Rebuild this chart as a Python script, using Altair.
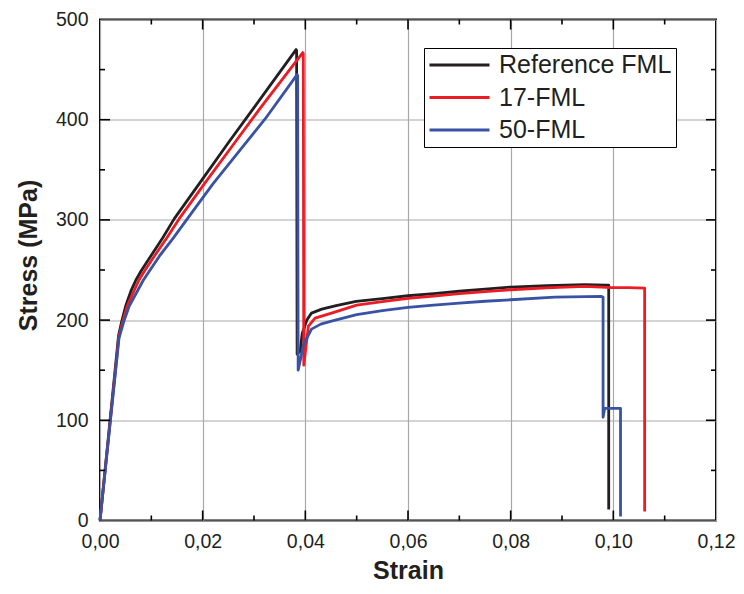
import altair as alt
import pandas as pd

# ---- data ----
series_names = ["Reference FML", "17-FML", "50-FML"]
series_colors = ["#231f20", "#ed1c24", "#3953a4"]

ref_strain = [0, 0.0036, 0.0042, 0.0050, 0.0061, 0.0070, 0.0080, 0.0099, 0.0122, 0.01445,
              0.020, 0.025, 0.030, 0.0382, 0.0383, 0.0384, 0.0390, 0.0394, 0.0403, 0.0412,
              0.0432, 0.046, 0.0499, 0.055, 0.060, 0.065, 0.070, 0.075, 0.080, 0.087,
              0.0944, 0.0986, 0.0991, 0.0991]
ref_stress = [0, 184, 198, 214, 230, 240, 249, 264, 282, 301,
              341, 377, 412, 470, 469, 166, 169, 187, 200, 207,
              211, 214.5, 218.6, 221.5, 224.3, 226.5, 228.8, 231, 233, 234.3,
              235.3, 235, 235, 11]

f17_strain = [0, 0.0037, 0.0044, 0.0053, 0.0067, 0.0076, 0.0086, 0.0106, 0.0130, 0.0154,
              0.0206, 0.0258, 0.031, 0.0395, 0.0396, 0.0397, 0.0400, 0.0406, 0.0419, 0.0451,
              0.050, 0.055, 0.060, 0.065, 0.070, 0.075, 0.080, 0.087, 0.0944, 0.0998,
              0.103, 0.1061, 0.1061]
f17_stress = [0, 184, 198, 214, 230, 240, 248.5, 264, 282, 301,
              338, 374, 410, 467, 466, 155, 168, 194, 202, 207,
              215, 218.5, 221.6, 224, 226.5, 228.5, 230.3, 232.2, 233.6, 232.5,
              232.5, 232, 9]

f50_strain = [0, 0.0037, 0.0046, 0.0057, 0.0074, 0.0084, 0.0095, 0.0116, 0.0143, 0.017,
              0.022, 0.027, 0.0322, 0.0384, 0.0385, 0.0386, 0.0391, 0.0396, 0.0403, 0.0412,
              0.043, 0.0451, 0.050, 0.055, 0.060, 0.065, 0.070, 0.075, 0.080, 0.0886,
              0.0977, 0.0980, 0.0980, 0.0983, 0.1014, 0.1014]
f50_stress = [0, 182, 198, 214, 230, 239.5, 248, 264, 282, 301,
              336, 368, 401, 445, 444, 150, 162, 175, 182, 191,
              196, 199, 205.5, 209.5, 212.6, 215, 217, 218.8, 220.3, 223,
              223.6, 223, 103, 112, 112, 4]

x_major = [0.02, 0.04, 0.06, 0.08, 0.10]
x_minor = [0.01, 0.03, 0.05, 0.07, 0.09, 0.11]
y_major = [100, 200, 300, 400]
y_minor = [50, 150, 250, 350, 450]

W, H = 616, 501
FONT = "Liberation Sans"
INK = "#231f20"


def frame(xs, ys, name):
    return pd.DataFrame({"strain": xs, "stress": ys, "series": name, "i": range(len(xs))})


x_scale = alt.Scale(domain=[0, 0.12], nice=False, zero=False)
y_scale = alt.Scale(domain=[0, 500], nice=False)
color_scale = alt.Scale(domain=series_names, range=series_colors)

x_axis = alt.Axis(
    values=[0, 0.02, 0.04, 0.06, 0.08, 0.10, 0.12],
    labelExpr="replace(format(datum.value, '.2f'), '.', ',')",
    title="Strain", titleFontSize=25, titleFont=FONT, titleFontWeight="bold",
    titleColor=INK, titlePadding=7,
    labelFont=FONT, labelFontSize=19.5, labelColor=INK, labelPadding=12,
    ticks=False, domain=False, grid=True, gridColor="#a8a8a8", gridWidth=1.2,
    labelFlush=False,
)
y_axis = alt.Axis(
    values=[0, 100, 200, 300, 400, 500],
    title="Stress (MPa)", titleFontSize=25, titleFont=FONT, titleFontWeight="bold",
    titleColor=INK, titleX=-59, titleY=235.5, titleAlign="center", titleAngle=-90,
    titleBaseline="bottom",
    labelFont=FONT, labelFontSize=19.5, labelColor=INK, labelPadding=12,
    ticks=False, domain=False, grid=True, gridColor="#a8a8a8", gridWidth=1.2,
    labelFlush=False,
)

legend = alt.Legend(
    orient="none", legendX=324, legendY=28.5, title=None,
    symbolType="stroke", symbolSize=3600, symbolStrokeWidth=3,
    clipHeight=26, rowPadding=6.5,
    labelFont=FONT, labelFontSize=25, labelColor=INK, labelOffset=8, labelLimit=400,
    padding=4, strokeColor="black", fillColor="white",
)

X = alt.X("strain:Q", scale=x_scale, axis=x_axis)
Y = alt.Y("stress:Q", scale=y_scale, axis=y_axis)


def series_layer(df):
    return alt.Chart(df).mark_line(strokeWidth=2.8, strokeJoin="round").encode(
        x=X, y=Y,
        color=alt.Color("series:N", scale=color_scale, legend=legend),
        order=alt.Order("i:Q"),
    )


layers = [
    series_layer(frame(ref_strain, ref_stress, series_names[0])),
    series_layer(frame(f17_strain, f17_stress, series_names[1])),
    series_layer(frame(f50_strain, f50_stress, series_names[2])),
]


def xticks(vals, length):
    df = pd.DataFrame({"strain": vals})
    base = alt.Chart(df).mark_rule(color="black", strokeWidth=1.6)
    bottom = base.encode(x=X, y=alt.value(H), y2=alt.value(H - length))
    top = base.encode(x=X, y=alt.value(0), y2=alt.value(length))
    return [bottom, top]


def yticks(vals, length):
    df = pd.DataFrame({"stress": vals})
    base = alt.Chart(df).mark_rule(color="black", strokeWidth=1.6)
    left = base.encode(y=Y, x=alt.value(0), x2=alt.value(length))
    right = base.encode(y=Y, x=alt.value(W), x2=alt.value(W - length))
    return [left, right]


tick_layers = xticks(x_major, 10) + xticks(x_minor, 5) + yticks(y_major, 10) + yticks(y_minor, 5)

chart = alt.layer(*layers, *tick_layers).properties(
    width=W, height=H,
    autosize=alt.AutoSizeParams(type="none"),
    padding={"left": 92, "top": 11.5, "right": 20, "bottom": 65.5},
    background="white",
).configure_view(
    stroke="black", strokeWidth=2,
)

chart.save("out.html", embed_options={"renderer": "svg", "actions": False})
